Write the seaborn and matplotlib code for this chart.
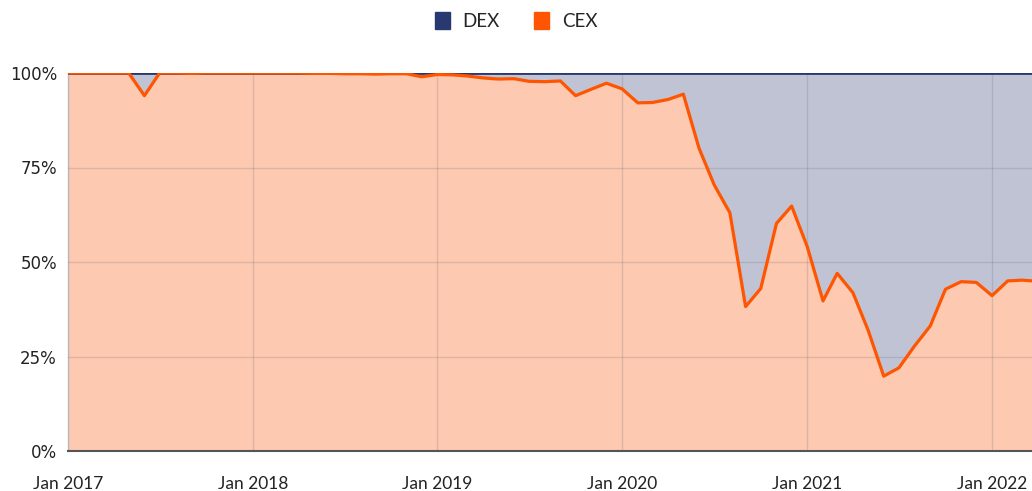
import numpy as np
import pandas as pd
import matplotlib
matplotlib.use("Agg")
import matplotlib.pyplot as plt
import matplotlib.dates as mdates
from matplotlib.patches import Patch
from matplotlib.ticker import FuncFormatter
import seaborn as sns

# --- DATA: monthly share of volume (%), Jan 2017 .. Apr 2022 ---
months = pd.date_range("2017-01-01", "2022-04-01", freq="MS")
cex_share = [
    100, 100, 100, 100, 100, 94.0, 100, 100, 99.9, 100, 100, 100,      # 2017
    100, 100, 100, 100, 99.9, 99.9, 99.8, 99.8, 99.7, 99.8, 99.8, 99.0,  # 2018
    99.6, 99.5, 99.2, 98.7, 98.4, 98.5, 97.8, 97.7, 97.9, 94.0, 95.7, 97.3,  # 2019
    95.8, 92.1, 92.2, 93.0, 94.4, 80.1, 70.4, 63.0, 38.2, 43.0, 60.2, 64.8,  # 2020
    54.0, 39.7, 47.0, 41.9, 32.0, 19.8, 22.0, 27.8, 33.1, 42.8, 44.8, 44.6,  # 2021
    41.1, 45.0, 45.2, 44.9,                                              # 2022
]
dex_share = [100 - v for v in cex_share]
series_names = ["DEX", "CEX"]
line_colors = ["#283870", "#ff5500"]
fill_colors = ["#bfc3d4", "#fec9b1"]

df = pd.DataFrame({"month": months, "CEX": cex_share, "DEX": dex_share})
df["top"] = df["CEX"] + df["DEX"]

sns.set_style("white")
plt.rcParams["font.family"] = ["DejaVu Sans"]

fig = plt.figure(figsize=(10.32, 4.91), dpi=100)
ax = fig.add_axes([68 / 1032, 1 - 451 / 491, 1 - 68 / 1032, (451 - 73) / 491])

# stacked areas: CEX at the bottom, DEX on top
ax.fill_between(df["month"], 0, df["CEX"], color=fill_colors[1], lw=0, zorder=1)
ax.fill_between(df["month"], df["CEX"], df["top"], color=fill_colors[0], lw=0, zorder=1)

sns.lineplot(data=df, x="month", y="top", color=line_colors[0], lw=2, ax=ax, zorder=4)
sns.lineplot(data=df, x="month", y="CEX", color=line_colors[1], lw=2.3, ax=ax, zorder=5)

ax.set_ylim(0, 100)
ax.set_xlim(months[0], months[0] + pd.Timedelta(days=int(62.6 * 30.44)))
ax.set_yticks([0, 25, 50, 75, 100])
ax.yaxis.set_major_formatter(FuncFormatter(lambda v, p: f"{int(v)}%"))
ax.xaxis.set_major_locator(mdates.YearLocator())
ax.xaxis.set_major_formatter(mdates.DateFormatter("Jan %Y"))

ax.grid(True, color="#6a6a7a", alpha=0.22, lw=1.0)
ax.set_axisbelow(False)
for s in ["top", "right"]:
    ax.spines[s].set_visible(False)
ax.spines["left"].set_color("#cccccc")
ax.spines["left"].set_linewidth(1)
ax.spines["bottom"].set_color("#555555")
ax.spines["bottom"].set_linewidth(1.5)
ax.spines["bottom"].set_zorder(6)

ax.tick_params(axis="y", length=0, pad=8, labelsize=12, labelcolor="#222222")
ax.tick_params(axis="x", length=0, pad=18, labelsize=12.5, labelcolor="#222222")
for lbl in ax.get_xticklabels():
    lbl.set_family(["Lato", "DejaVu Sans"])
ax.set_xlabel("")
ax.set_ylabel("")

handles = [Patch(facecolor=c, edgecolor=c, label=n) for n, c in zip(series_names, line_colors)]
fig.legend(handles=handles, loc="center", bbox_to_anchor=(0.5, 1 - 21 / 491), ncol=2,
           frameon=False, handlelength=0.8, handleheight=1.0,
           handletextpad=0.7, columnspacing=1.8, prop={"family": ["Lato", "DejaVu Sans"], "size": 13.5})

fig.savefig("out.png", dpi=100)
